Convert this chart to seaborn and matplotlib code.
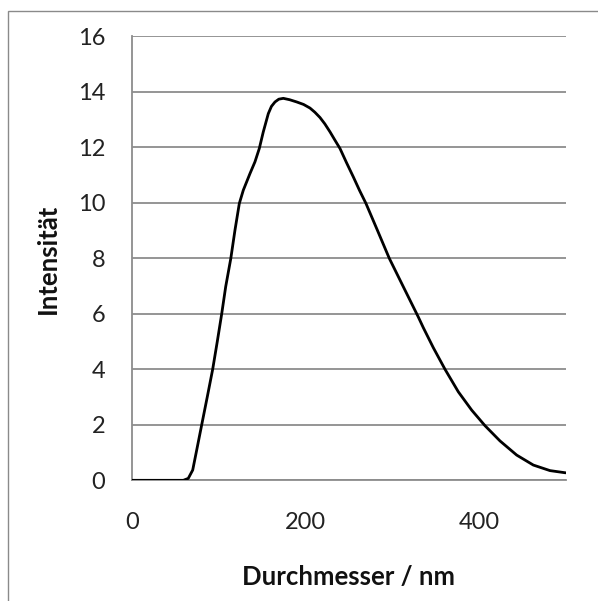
import matplotlib
matplotlib.use("Agg")
import matplotlib.pyplot as plt
import seaborn as sns
import pandas as pd
from matplotlib.patches import Rectangle

diameter_nm = [0, 30, 59.5, 65.2, 70.3, 74.9, 80.6, 87.1, 93.3, 98.6, 103.7, 108.3,
               114.2, 119, 124, 128.6, 136.3, 142, 147, 151.6, 157.4, 161, 165.1,
               169.5, 174.7, 182, 190.1, 198, 205.4, 211, 216.9, 222.5, 228.5, 234,
               240, 247.5, 255.3, 262.5, 269.9, 283, 296.8, 312.9, 330, 336, 347.5,
               361, 376.3, 391.7, 407, 424.3, 443.5, 462.7, 481.9, 500]
intensity = [0, 0, 0, 0.07, 0.37, 1.09, 1.99, 3.01, 4.0, 5.0, 6.0, 6.98,
             8.0, 9.02, 9.98, 10.46, 11.06, 11.48, 11.96, 12.56, 13.22, 13.48, 13.64,
             13.74, 13.77, 13.72, 13.64, 13.55, 13.42, 13.27, 13.08, 12.85, 12.56, 12.27,
             11.96, 11.45, 10.94, 10.45, 9.98, 9.02, 8.0, 6.98, 5.9, 5.5, 4.78,
             4.0, 3.19, 2.53, 1.97, 1.42, 0.91, 0.55, 0.35, 0.27]
x_ticks = [0, 200, 400]
y_ticks = [0, 2, 4, 6, 8, 10, 12, 14, 16]

df = pd.DataFrame({"Durchmesser": diameter_nm, "Intensität": intensity})

sns.set_theme(style="white")
plt.rcParams["font.family"] = ["Lato", "DejaVu Sans"]

fig = plt.figure(figsize=(5.98, 6.01), dpi=100)
ax = fig.add_axes([0.2202, 0.2008, 0.946 - 0.2202, 0.9393 - 0.2008])

grid_c = "#8c8c8c"
for y in y_ticks:
    ax.axhline(y, color=grid_c, lw=1.3, zorder=1)

sns.lineplot(data=df, x="Durchmesser", y="Intensität", ax=ax, color="black",
             lw=2.0, zorder=3, estimator=None, sort=False,
             solid_joinstyle="round", solid_capstyle="round")

ax.set_xlim(0, 500)
ax.set_ylim(0, 16)
ax.set_xticks(x_ticks)
ax.set_yticks(y_ticks)
ax.tick_params(axis="both", labelsize=17, colors=grid_c, labelcolor="#222222",
               length=5, width=1.3, direction="out")
ax.tick_params(axis="x", pad=18)
ax.tick_params(axis="y", pad=14)
for s in ["top", "right"]:
    ax.spines[s].set_visible(False)
for s in ["left", "bottom"]:
    ax.spines[s].set_color(grid_c)
    ax.spines[s].set_linewidth(1.3)
ax.set_xlabel("Durchmesser / nm", fontsize=18.5, fontweight="bold", color="#111111")
ax.set_ylabel("Intensität", fontsize=18.5, fontweight="bold", color="#111111")
ax.xaxis.label.set_va("center")
ax.yaxis.label.set_va("center")
ax.xaxis.set_label_coords(0.499, -0.218)
ax.yaxis.set_label_coords(-0.194, 0.5)

fig.patches.append(Rectangle((8 / 598, -0.1), 1.2, 1 - 11 / 601 + 0.1,
                             transform=fig.transFigure, fill=False,
                             edgecolor="#8a8a8a", lw=1.0))

fig.savefig("out.png", dpi=100)
